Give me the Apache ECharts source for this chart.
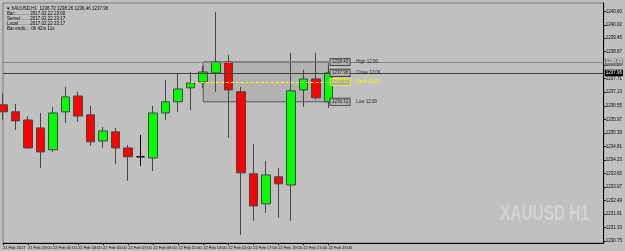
<!DOCTYPE html>
<html>
<head>
<meta charset="utf-8">
<script src="https://cdn.jsdelivr.net/npm/echarts@6/dist/echarts.min.js"></script>
<style>
html, body { margin: 0; padding: 0; background: #c0c0c0; }
#main { width: 625px; height: 251px; }
</style>
</head>
<body>
<div id="main"></div>
<script>
// H1 bars, 21 Feb 21:00 .. 22 Feb 23:00
var categories = ['21 Feb 2017', '21 Feb 22:00', '21 Feb 23:00',
  '22 Feb 00:00', '22 Feb 01:00', '22 Feb 02:00', '22 Feb 03:00', '22 Feb 04:00', '22 Feb 05:00',
  '22 Feb 06:00', '22 Feb 07:00', '22 Feb 08:00', '22 Feb 09:00', '22 Feb 10:00', '22 Feb 11:00',
  '22 Feb 12:00', '22 Feb 13:00', '22 Feb 14:00', '22 Feb 15:00', '22 Feb 16:00', '22 Feb 17:00',
  '22 Feb 18:00', '22 Feb 19:00', '22 Feb 20:00', '22 Feb 21:00', '22 Feb 22:00', '22 Feb 23:00'];
var opens  = [1236.59, 1236.29, 1235.94, 1235.60, 1234.66, 1236.29, 1236.97, 1236.16, 1235.04, 1235.43, 1234.74, 1234.36, 1234.31, 1236.24, 1236.72, 1237.32, 1237.57, 1237.96, 1238.43, 1237.15, 1233.63, 1232.34, 1233.50, 1233.15, 1237.23, 1237.70, 1236.72];
var closes = [1236.29, 1235.90, 1234.74, 1234.57, 1236.24, 1236.93, 1236.11, 1235.00, 1235.47, 1234.74, 1234.36, 1234.36, 1236.24, 1236.72, 1237.27, 1237.53, 1238.00, 1238.43, 1237.23, 1233.67, 1232.25, 1233.58, 1233.20, 1237.19, 1237.70, 1236.89, 1237.96];
var highs  = [1237.06, 1236.63, 1236.11, 1236.24, 1236.50, 1237.36, 1237.15, 1236.54, 1235.64, 1235.60, 1234.87, 1235.30, 1236.54, 1237.66, 1237.96, 1238.00, 1238.26, 1240.58, 1238.73, 1237.36, 1234.91, 1234.18, 1233.88, 1238.82, 1238.09, 1238.82, 1238.26];
var lows   = [1235.94, 1235.51, 1234.70, 1233.88, 1234.57, 1235.81, 1235.86, 1234.83, 1234.74, 1234.05, 1233.33, 1233.97, 1233.75, 1235.94, 1236.29, 1236.37, 1237.32, 1237.15, 1235.17, 1231.01, 1231.61, 1231.95, 1231.74, 1231.61, 1236.50, 1236.80, 1236.46];

// price scale labels on the right
var priceTicks = [1230.75, 1231.33, 1231.91, 1232.49, 1233.07, 1233.65, 1234.23, 1234.81, 1235.39,
  1235.97, 1236.55, 1237.13, 1237.71, 1238.29, 1238.87, 1239.45, 1240.02, 1240.60];

// 12:00 levels drawn by the indicator
var levelNames  = ['High 12:00', 'Close 12:00', 'Open 12:00', 'Low 12:00'];
var levelValues = [1238.43, 1237.96, 1237.57, 1236.72];

var infoLines = ['Bar:........... 2017.02.22 23:00', 'Server:...... 2017.02.22 23:17',
  'Local:........ 2017.02.22 23:17', 'Bar ends:... 0h 42m 11s'];

var FONT = 'Liberation Sans';
var myChart = echarts.init(document.getElementById('main'));

var candles = [];
for (var i = 0; i < opens.length; i++) {
  candles.push([opens[i], closes[i], lows[i], highs[i]]);
}
// empty slots to the right (chart shift)
var xCats = categories.slice();
while (xCats.length < 49) xCats.push('');

var last = candles.length - 1;
var header = '\u25BE XAUUSD,H1  ' + [opens[last], highs[last], lows[last], closes[last]]
  .map(function (v) { return v.toFixed(2); }).join(' ');

function levelLabel(name, value, yellow) {
  var c = yellow ? '#ffff00' : '#202020';
  return {
    show: true,
    position: 'right',
    distance: 2,
    formatter: '{b|' + value.toFixed(2) + '}  {t|' + name + '}',
    rich: {
      b: { fontSize: 4.5, fontFamily: FONT, color: c, backgroundColor: yellow ? '#a8a8a8' : '#b0b0b0',
           borderColor: yellow ? '#ffff00' : '#303030', borderWidth: 0.8, padding: [1, 1.5, 0.5, 1.5] },
      t: { fontSize: 4.5, fontFamily: FONT, color: c }
    }
  };
}

function everyOther(idx, v) { return idx % 2 === 0 && v !== ''; }

var option = {
  backgroundColor: '#c0c0c0',
  animation: false,
  title: {
    left: 2, top: 1.5,
    text: header + '\n' + infoLines.join('\n'),
    textStyle: { fontSize: 4.5, fontFamily: FONT, fontWeight: 'normal', color: '#000', lineHeight: 5 }
  },
  grid: { left: 2, right: 17, top: 3, bottom: 8, show: true, borderColor: '#7a7a7a', borderWidth: 1 },
  xAxis: {
    type: 'category',
    data: xCats,
    boundaryGap: false,
    axisLine: { lineStyle: { color: '#000' } },
    axisTick: { show: true, length: 2, lineStyle: { color: '#000' }, interval: everyOther },
    axisLabel: {
      interval: everyOther, showMinLabel: true, hideOverlap: false,
      align: 'left', fontSize: 4, fontFamily: FONT, color: '#000', margin: 3
    },
    splitLine: { show: false }
  },
  yAxis: {
    type: 'value',
    position: 'right',
    min: 1230.66,
    max: 1240.96,
    axisLine: { show: true, lineStyle: { color: '#000' } },
    axisTick: { show: true, length: 2, customValues: priceTicks, lineStyle: { color: '#000' } },
    axisLabel: {
      customValues: priceTicks,
      formatter: function (v) { return v.toFixed(2); },
      fontSize: 4.5, fontFamily: FONT, color: '#000', margin: 2
    },
    splitLine: { show: false }
  },
  graphic: [{
    type: 'text', left: 500, top: 203, scaleX: 0.7, silent: true,
    style: { text: 'XAUUSD H1', font: 'bold 22px "Liberation Sans"', fill: '#d4d4d4' }
  }],
  series: [{
    type: 'candlestick',
    data: candles,
    barWidth: 9,
    clip: true,
    itemStyle: {
      color: '#00ff00', color0: '#ff0000',
      borderColor: '#454545', borderColor0: '#454545', borderColorDoji: '#000',
      borderWidth: 1
    },
    markArea: {
      silent: true,
      itemStyle: { color: 'rgba(0,0,0,0.07)', borderColor: '#555', borderWidth: 1 },
      data: [[{ coord: [16, levelValues[0]] }, { coord: [26, levelValues[3]] }]]
    },
    markLine: {
      silent: true,
      symbol: ['none', 'none'],
      data: [
        { yAxis: levelValues[0], lineStyle: { color: '#858585', type: 'solid', width: 1 },
          label: { show: true, position: 'end', distance: 1, formatter: levelValues[0].toFixed(2),
                   fontSize: 4.5, fontFamily: FONT, color: '#fff', backgroundColor: '#808080', padding: [1, 1, 0.5, 1] } },
        { yAxis: closes[last], lineStyle: { color: '#404040', type: 'solid', width: 1 },
          label: { show: true, position: 'end', distance: 1, formatter: closes[last].toFixed(2),
                   fontSize: 4.5, fontFamily: FONT, color: '#fff', backgroundColor: '#000', padding: [1, 1, 0.5, 1] } },
        [{ coord: [15, levelValues[2]], lineStyle: { color: '#ffff00', type: [3, 2], width: 1 }, label: { show: false } },
         { coord: [26, levelValues[2]] }]
      ]
    },
    markPoint: {
      silent: true,
      symbol: 'rect',
      symbolSize: 0,
      data: [
        { coord: [26, levelValues[0]], label: levelLabel(levelNames[0], levelValues[0], false) },
        { coord: [26, levelValues[1]], label: levelLabel(levelNames[1], levelValues[1], false) },
        { coord: [26, levelValues[2]], label: levelLabel(levelNames[2], levelValues[2], true) },
        { coord: [26, levelValues[3]], label: levelLabel(levelNames[3], levelValues[3], false) }
      ]
    }
  }]
};

myChart.setOption(option);
</script>
</body>
</html>
